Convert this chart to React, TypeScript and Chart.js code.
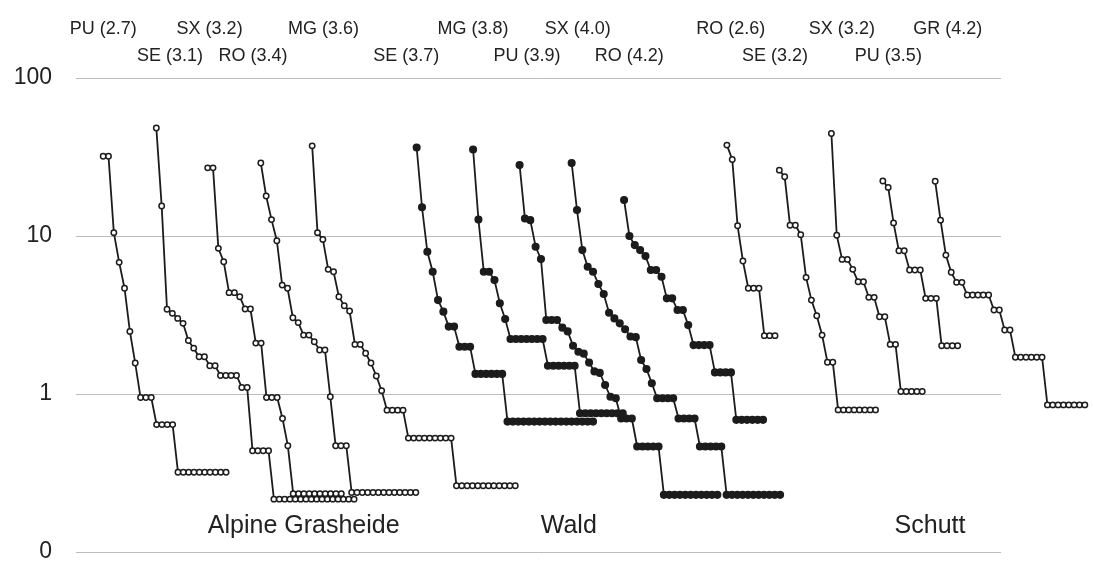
import React, { useEffect, useRef } from "react";
import { Chart, registerables } from "chart.js";

Chart.register(...registerables);

// ---- data -------------------------------------------------------------
// series labels (site + value), drawn above the plot
const seriesNames = [
  "PU (2.7)", "SE (3.1)", "SX (3.2)", "RO (3.4)", "MG (3.6)",
  "SE (3.7)", "MG (3.8)", "PU (3.9)", "SX (4.0)", "RO (4.2)",
  "RO (2.6)", "SE (3.2)", "SX (3.2)", "PU (3.5)", "GR (4.2)",
];
// rank position on the x axis where each curve starts
const seriesStart = [5.08, 15.03, 24.64, 34.58, 44.19, 63.74, 74.3, 83.0, 92.74, 102.55, 121.79, 131.6, 141.34, 150.97, 160.76];
// filled markers (Wald) vs open markers
const seriesFilled = [false, false, false, false, false, true, true, true, true, true, false, false, false, false, false];
// label anchor on x axis and row (0 = upper, 1 = lower)
const labelX = [5.1, 17.6, 25.0, 33.1, 46.3, 61.8, 74.3, 84.4, 93.9, 103.5, 122.5, 130.8, 143.3, 152.0, 163.1];
const labelRow = [0, 1, 0, 1, 0, 1, 0, 1, 0, 1, 0, 1, 0, 1, 0];

// relative abundance (%) by rank
const puAG = [32.0, 32.0, 10.5, 6.81, 4.67, 2.49, 1.57, 0.95, 0.95, 0.95, 0.64, 0.64, 0.64, 0.64, 0.32, 0.32, 0.32, 0.32, 0.32, 0.32, 0.32, 0.32, 0.32, 0.32];
const seAG = [48.3, 15.5, 3.44, 3.24, 3.01, 2.8, 2.18, 1.95, 1.72, 1.72, 1.51, 1.51, 1.31, 1.31, 1.31, 1.31, 1.1, 1.1, 0.437, 0.437, 0.437, 0.437, 0.216, 0.216, 0.216, 0.216, 0.216, 0.216, 0.216, 0.216, 0.216, 0.216, 0.216, 0.216, 0.216, 0.216, 0.216, 0.216];
const sxAG = [27.0, 27.0, 8.35, 6.87, 4.38, 4.38, 4.13, 3.45, 3.45, 2.1, 2.1, 0.95, 0.95, 0.95, 0.7, 0.47, 0.234, 0.234, 0.234, 0.234, 0.234, 0.234, 0.234, 0.234, 0.234, 0.234];
const roAG = [29.0, 17.9, 12.7, 9.33, 4.89, 4.67, 3.04, 2.83, 2.36, 2.36, 2.14, 1.9, 1.9, 0.96, 0.47, 0.47, 0.47, 0.238, 0.238, 0.238, 0.238, 0.238, 0.238, 0.238, 0.238, 0.238, 0.238, 0.238, 0.238, 0.238];
const mgAG = [37.2, 10.5, 9.52, 6.15, 5.94, 4.13, 3.62, 3.35, 2.06, 2.06, 1.81, 1.57, 1.3, 1.05, 0.79, 0.79, 0.79, 0.79, 0.526, 0.526, 0.526, 0.526, 0.526, 0.526, 0.526, 0.526, 0.526, 0.2625, 0.2625, 0.2625, 0.2625, 0.2625, 0.2625, 0.2625, 0.2625, 0.2625, 0.2625, 0.2625, 0.2625];
const seW = [36.3, 15.2, 7.95, 5.94, 3.93, 3.32, 2.67, 2.67, 1.99, 1.99, 1.99, 1.34, 1.34, 1.34, 1.34, 1.34, 1.34, 0.669, 0.669, 0.669, 0.669, 0.669, 0.669, 0.669, 0.669, 0.669, 0.669, 0.669, 0.669, 0.669, 0.669, 0.669, 0.669, 0.669];
const mgW = [35.3, 12.7, 5.94, 5.94, 5.26, 3.75, 2.98, 2.23, 2.23, 2.23, 2.23, 2.23, 2.23, 2.23, 1.51, 1.51, 1.51, 1.51, 1.51, 1.51, 0.756, 0.756, 0.756, 0.756, 0.756, 0.756, 0.756, 0.756, 0.756];
const puW = [28.1, 12.9, 12.6, 8.55, 7.14, 2.94, 2.94, 2.94, 2.63, 2.49, 2.02, 1.85, 1.8, 1.58, 1.39, 1.36, 1.14, 0.96, 0.94, 0.7, 0.7, 0.7, 0.465, 0.465, 0.465, 0.465, 0.465, 0.23, 0.23, 0.23, 0.23, 0.23, 0.23, 0.23, 0.23, 0.23, 0.23, 0.23];
const sxW = [29.0, 14.6, 8.14, 6.39, 5.94, 4.97, 4.29, 3.27, 3.01, 2.8, 2.57, 2.31, 2.29, 1.64, 1.44, 1.17, 0.94, 0.94, 0.94, 0.94, 0.7, 0.7, 0.7, 0.7, 0.465, 0.465, 0.465, 0.465, 0.465, 0.23, 0.23, 0.23, 0.23, 0.23, 0.23, 0.23, 0.23, 0.23, 0.23, 0.23];
const roW = [16.9, 9.99, 8.76, 8.14, 7.46, 6.09, 6.09, 5.52, 4.03, 4.03, 3.4, 3.4, 2.73, 2.04, 2.04, 2.04, 2.04, 1.37, 1.37, 1.37, 1.37, 0.686, 0.686, 0.686, 0.686, 0.686, 0.686];
const roS = [37.6, 30.5, 11.6, 6.94, 4.67, 4.67, 4.67, 2.34, 2.34, 2.34];
const seS = [26.1, 23.7, 11.7, 11.7, 10.2, 5.47, 3.93, 3.13, 2.36, 1.59, 1.59, 0.793, 0.793, 0.793, 0.793, 0.793, 0.793, 0.793, 0.793];
const sxS = [44.5, 10.1, 7.11, 7.11, 6.15, 5.13, 5.13, 4.09, 4.09, 3.08, 3.08, 2.06, 2.06, 1.036, 1.036, 1.036, 1.036, 1.036];
const puS = [22.3, 20.3, 12.1, 8.06, 8.06, 6.09, 6.09, 6.09, 4.03, 4.03, 4.03, 2.02, 2.02, 2.02, 2.02];
const grS = [22.2, 12.6, 7.57, 5.89, 5.09, 5.09, 4.23, 4.23, 4.23, 4.23, 4.23, 3.4, 3.4, 2.54, 2.54, 1.71, 1.71, 1.71, 1.71, 1.71, 1.71, 0.853, 0.853, 0.853, 0.853, 0.853, 0.853, 0.853, 0.853];

const seriesValues = [puAG, seAG, sxAG, roAG, mgAG, seW, mgW, puW, sxW, roW, roS, seS, sxS, puS, grS];

// group labels below the curves
const groupNames = ["Alpine Grasheide", "Wald", "Schutt"];
const groupX = [42.6, 92.2, 159.8];
const groupY = 0.145;

// y axis ticks
const yTickValues = [0.1, 1, 10, 100];
const yTickLabels = ["0", "1", "10", "100"];

// x range (rank units) and where the horizontal grid ends
const xMin = 0;
const xMax = 189.39;
const gridEndX = 173;

const FONT = '"Liberation Sans", Arial, Helvetica, sans-serif';
const INK = "#1c1c1c";

export default function App() {
  const ref = useRef<HTMLCanvasElement | null>(null);

  useEffect(() => {
    document.body.style.margin = "0";
    const canvas = ref.current;
    if (!canvas) return;

    const datasets = seriesValues.map((vals, si) => ({
      label: seriesNames[si],
      data: vals.map((v, i) => ({ x: seriesStart[si] + i, y: v })),
      borderColor: INK,
      borderWidth: 1.8,
      tension: 0,
      pointRadius: seriesFilled[si] ? 3.3 : 2.7,
      pointBorderWidth: 1.5,
      pointBorderColor: INK,
      pointBackgroundColor: seriesFilled[si] ? INK : "#ffffff",
      pointHoverRadius: 0,
      clip: false as any,
    }));

    const overlay = {
      id: "overlay",
      beforeDatasetsDraw(chart: any) {
        const { ctx, chartArea, scales } = chart;
        const x = scales.x, y = scales.y;
        ctx.save();
        ctx.strokeStyle = "#bcbcbc";
        ctx.lineWidth = 1;
        const xr = Math.round(x.getPixelForValue(gridEndX));
        yTickValues.forEach((v) => {
          const py = Math.round(y.getPixelForValue(v)) + 0.5;
          ctx.beginPath();
          ctx.moveTo(chartArea.left, py);
          ctx.lineTo(xr, py);
          ctx.stroke();
        });
        ctx.restore();
      },
      afterDatasetsDraw(chart: any) {
        const { ctx, chartArea, scales } = chart;
        const x = scales.x, y = scales.y;
        ctx.save();
        ctx.fillStyle = "#222";
        ctx.textAlign = "center";
        ctx.textBaseline = "middle";
        ctx.font = `18px ${FONT}`;
        seriesNames.forEach((n, i) => {
          const px = x.getPixelForValue(labelX[i]);
          const py = chartArea.top - (labelRow[i] === 0 ? 49 : 22);
          ctx.fillText(n, px, py);
        });
        ctx.font = `25px ${FONT}`;
        groupNames.forEach((n, i) => {
          ctx.fillText(n, x.getPixelForValue(groupX[i]), y.getPixelForValue(groupY));
        });
        ctx.restore();
      },
    };

    const chart = new Chart(canvas, {
      type: "line",
      data: { datasets: datasets as any },
      options: {
        animation: false,
        responsive: false,
        maintainAspectRatio: false,
        layout: { padding: { left: 0, right: 0, top: 78, bottom: 11 } },
        plugins: { legend: { display: false }, tooltip: { enabled: false } },
        events: [],
        scales: {
          x: { type: "linear", min: xMin, max: xMax, display: false },
          y: {
            type: "logarithmic",
            min: 0.1,
            max: 100,
            afterBuildTicks: (s: any) => {
              s.ticks = yTickValues.map((v) => ({ value: v }));
            },
            afterFit: (s: any) => {
              s.width = 76;
              s.paddingTop = 0;
              s.paddingBottom = 0;
            },
            grid: { display: false, drawTicks: false },
            border: { display: false },
            ticks: {
              padding: 24,
              color: "#222",
              autoSkip: false,
              font: { size: 23, family: FONT, lineHeight: 1 },
              callback: (v: any) => {
                const i = yTickValues.indexOf(Number(v));
                return i >= 0 ? yTickLabels[i] : "";
              },
            },
          },
        },
      },
      plugins: [overlay],
    } as any);

    return () => chart.destroy();
  }, []);

  return <canvas ref={ref} width={1093} height={563} style={{ display: "block" }} />;
}
